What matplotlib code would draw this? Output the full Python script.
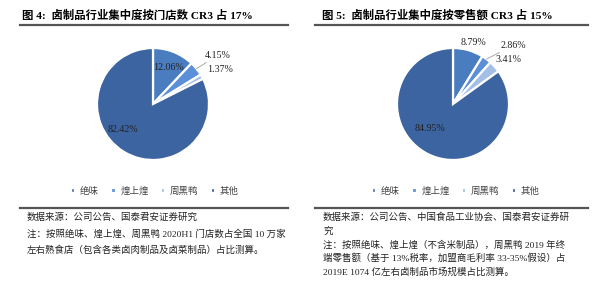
import numpy as np
import matplotlib
matplotlib.use('Agg')
import matplotlib.pyplot as plt
from matplotlib.lines import Line2D

plt.rcParams['font.family'] = ['Liberation Serif', 'Noto Sans CJK SC']

# dados
nomes = ['绝味', '煌上煌', '周黑鸭', '其他']
lojas = [12.06, 4.15, 1.37, 82.42]
varejo = [8.79, 2.86, 3.41, 84.95]
cores = ['#4a7cc0', '#5b8fd8', '#a3bfe5', '#3c64a0']

titulo1 = '图 4:  卤制品行业集中度按门店数 CR3 占 17%'
titulo2 = '图 5:  卤制品行业集中度按零售额 CR3 占 15%'
notas1 = ['数据来源：公司公告、国泰君安证券研究',
          '注：按照绝味、煌上煌、周黑鸭 2020H1 门店数占全国 10 万家',
          '左右熟食店（包含各类卤肉制品及卤菜制品）占比测算。']
notas2 = ['数据来源：公司公告、中国食品工业协会、国泰君安证券研',
          '究',
          '注：按照绝味、煌上煌（不含米制品），周黑鸭 2019 年终',
          '端零售额（基于 13%税率，加盟商毛利率 33-35%假设）占',
          '2019E 1074 亿左右卤制品市场规模占比测算。']

W, H = 600, 297
fig = plt.figure(figsize=(W / 100, H / 100), dpi=100)


def fx(x):
    return x / W


def fy(y):
    return 1 - y / H


def linha(x0, x1, y, lw=1.6):
    fig.add_artist(Line2D([fx(x0), fx(x1)], [fy(y), fy(y)], color='#555555',
                          lw=lw, transform=fig.transFigure))


def pizza(cx, cy, r, valores, pos_rotulos, leader):
    ax = fig.add_axes([fx(cx - r), fy(cy + r), 2 * r / W, 2 * r / H])
    wedges, _ = ax.pie(valores, colors=cores, startangle=90, counterclock=False,
                       wedgeprops=dict(edgecolor='white', linewidth=1.6))
    ax.set_xlim(-1, 1)
    ax.set_ylim(-1, 1)
    ax.set_aspect('auto')
    ax.axis('off')
    for i, (w, v) in enumerate(zip(wedges, valores)):
        tx, ty = pos_rotulos[i]
        txt = '%.2f%%' % v
        if i in leader:
            ang = np.deg2rad((w.theta1 + w.theta2) / 2)
            ax.annotate(txt, xy=(np.cos(ang), np.sin(ang)), xytext=(tx, ty),
                        fontsize=7.2, color='#222222', ha='left', va='center',
                        annotation_clip=False,
                        arrowprops=dict(arrowstyle='-', color='#aaaaaa', lw=0.7,
                                        shrinkA=0, shrinkB=0))
        else:
            ax.text(tx, ty, txt, fontsize=7.2, color='#222222', ha='center',
                    va='center', clip_on=False)
    return wedges


def legenda(w, cx):
    fig.legend(w, nomes, loc='center', bbox_to_anchor=(fx(cx), fy(191)), ncol=4,
               frameon=False, fontsize=6.8, handlelength=0.45, handleheight=0.45,
               handletextpad=0.5, columnspacing=1.3, labelcolor='#444444')


# Figura 4
fig.text(fx(22), fy(15), titulo1, fontsize=8.2, fontweight='bold', va='center')
linha(20, 288, 25)
w = pizza(153, 104, 56, lojas,
          [(0.27, 0.66), (0.93, 0.87), (1.2, 0.61), (-0.54, -0.46)], leader=[1])
legenda(w, 155)
linha(20, 288, 208)
for k, t in enumerate(notas1):
    fig.text(fx(27), fy(217 + k * 16.5), t, fontsize=6.8, va='center', color='#222222')

# Figura 5
fig.text(fx(322), fy(15), titulo2, fontsize=8.2, fontweight='bold', va='center')
linha(315, 588, 25)
w = pizza(453, 104, 56, varejo,
          [(0.36, 1.09), (0.85, 1.05), (1.0, 0.79), (-0.41, -0.43)], leader=[1])
legenda(w, 456)
linha(315, 588, 208)
for k, t in enumerate(notas2):
    fig.text(fx(323), fy(217 + k * 13.8), t, fontsize=6.8, va='center', color='#222222')

fig.savefig('out.png', dpi=100)
